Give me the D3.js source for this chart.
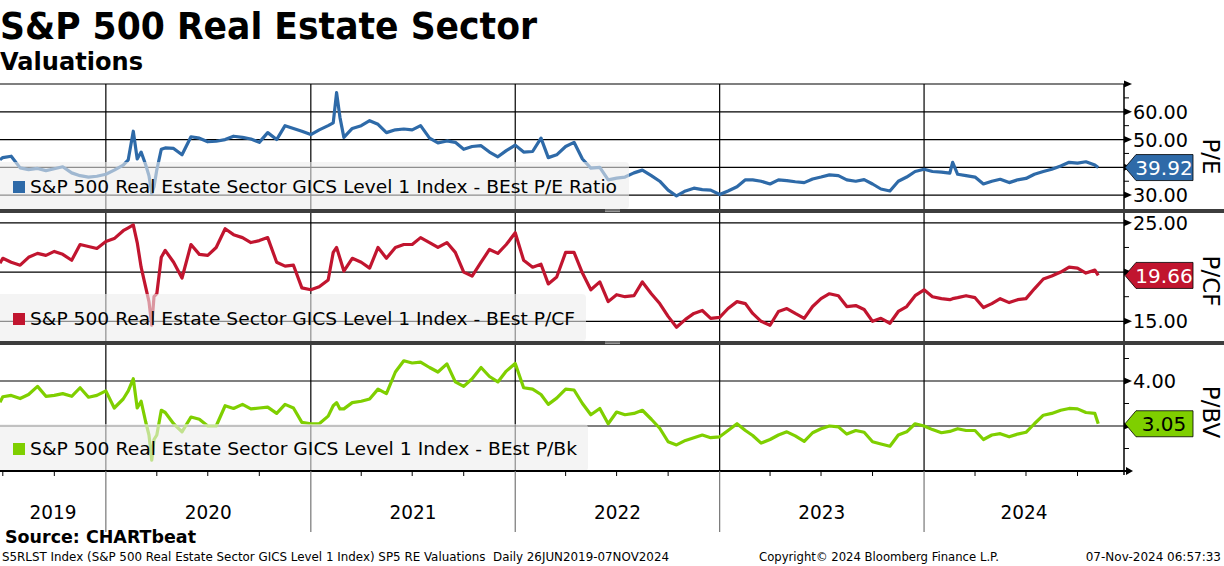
<!DOCTYPE html>
<html>
<head>
<meta charset="utf-8">
<script src="https://cdn.jsdelivr.net/npm/d3@7"></script>
<style>
  body { margin: 0; background: #fff; }
  svg { display: block; font-family: "DejaVu Sans", Verdana, sans-serif; }
</style>
</head>
<body>
<div id="chart"></div>
<script>
// semi-monthly sampling of the daily series, plus a few extra days round the spikes
const dates = [
  "2019-06-26","2019-07-01","2019-07-16","2019-08-01","2019-08-16","2019-09-01","2019-09-16","2019-10-01","2019-10-16","2019-11-01",
  "2019-11-16","2019-12-01","2019-12-16","2020-01-01","2020-01-16","2020-02-01","2020-02-10","2020-02-19","2020-02-26","2020-03-04",
  "2020-03-12","2020-03-18","2020-03-23","2020-03-27","2020-04-01","2020-04-09","2020-04-16","2020-05-01","2020-05-16","2020-06-01",
  "2020-06-16","2020-07-01","2020-07-16","2020-08-01","2020-08-16","2020-09-01","2020-09-16","2020-10-01","2020-10-16","2020-11-01",
  "2020-11-16","2020-12-01","2020-12-16","2021-01-01","2021-01-16","2021-02-01","2021-02-10","2021-02-16","2021-02-22","2021-03-01",
  "2021-03-16","2021-04-01","2021-04-16","2021-05-01","2021-05-16","2021-06-01","2021-06-16","2021-07-01","2021-07-16","2021-08-01",
  "2021-08-16","2021-09-01","2021-09-16","2021-10-01","2021-10-16","2021-11-01","2021-11-16","2021-12-01","2021-12-16","2022-01-01",
  "2022-01-16","2022-02-01","2022-02-16","2022-03-01","2022-03-16","2022-04-01","2022-04-16","2022-05-01","2022-05-16","2022-06-01",
  "2022-06-16","2022-07-01","2022-07-16","2022-08-01","2022-08-16","2022-09-01","2022-09-16","2022-10-01","2022-10-16","2022-11-01",
  "2022-11-16","2022-12-01","2022-12-16","2023-01-01","2023-01-16","2023-02-01","2023-02-16","2023-03-01","2023-03-16","2023-04-01",
  "2023-04-16","2023-05-01","2023-05-16","2023-06-01","2023-06-16","2023-07-01","2023-07-16","2023-08-01","2023-08-16","2023-09-01",
  "2023-09-16","2023-10-01","2023-10-16","2023-11-01","2023-11-16","2023-12-01","2023-12-16","2024-01-01","2024-01-16","2024-02-01",
  "2024-02-16","2024-02-21","2024-03-01","2024-03-16","2024-04-01","2024-04-16","2024-05-01","2024-05-16","2024-06-01","2024-06-16",
  "2024-07-01","2024-07-16","2024-08-01","2024-08-16","2024-09-01","2024-09-16","2024-10-01","2024-10-16","2024-11-01","2024-11-07"
];

const peValues = [
  42.7,43.5,44.0,39.8,39.2,39.6,38.8,39.5,40.2,38.0,
  37.0,36.5,36.8,37.5,39.0,40.8,42.7,53.0,43.0,45.5,
  41.0,37.0,30.6,33.0,39.1,46.5,47.0,46.8,44.5,51.0,
  50.5,49.2,49.4,50.0,51.2,50.8,50.2,49.0,52.5,50.0,
  55.0,54.0,53.0,51.8,53.5,55.0,56.0,66.9,58.0,50.8,
  54.0,55.0,56.8,55.5,52.5,53.5,53.8,53.5,55.0,50.5,
  48.8,49.5,49.0,46.5,47.5,47.8,45.5,43.8,46.0,48.0,
  45.5,45.7,50.5,43.5,44.5,47.5,49.0,43.0,39.7,40.0,
  35.5,36.1,36.5,38.0,39.0,37.0,35.0,31.8,29.7,31.5,
  32.5,32.0,31.8,30.2,31.5,33.0,35.5,35.5,35.0,34.0,
  35.5,35.2,34.8,34.5,35.8,36.5,37.3,37.0,35.5,35.0,
  35.6,34.0,32.2,31.5,35.0,36.5,38.5,39.3,38.5,38.3,
  37.9,41.8,37.5,37.0,36.5,34.0,35.0,35.7,34.5,35.5,
  36.0,37.5,38.5,39.3,40.5,41.8,41.5,42.0,40.8,39.92
];

const pcfValues = [
  20.9,21.4,21.0,20.7,21.5,21.9,21.7,22.1,21.8,21.2,
  22.8,22.6,22.4,23.1,23.4,24.2,24.5,24.8,23.0,20.5,
  18.5,17.0,14.6,17.5,17.8,21.5,22.2,21.0,19.4,22.8,
  21.8,21.7,22.5,24.4,23.8,23.5,23.0,23.2,23.5,21.0,
  20.6,20.7,18.4,18.2,18.5,19.2,22.0,22.5,21.4,20.1,
  21.4,21.0,20.4,22.5,21.4,22.5,22.8,22.8,23.5,23.0,
  22.5,23.0,22.0,20.0,19.6,21.0,22.3,21.9,22.8,24.0,
  21.2,20.5,20.8,18.8,19.5,22.0,22.0,19.9,18.2,19.0,
  17.0,17.7,17.5,17.6,19.0,17.8,16.8,15.5,14.4,15.2,
  15.8,16.1,15.3,15.4,16.3,17.0,16.8,15.8,15.0,14.6,
  16.0,16.3,15.8,15.3,16.5,17.3,17.8,17.6,16.5,16.6,
  16.2,15.0,15.3,14.8,16.0,16.5,17.6,18.2,17.5,17.3,
  17.2,17.3,17.4,17.6,17.4,16.4,16.8,17.3,16.9,17.2,
  17.3,18.3,19.3,19.6,20.0,20.5,20.4,19.9,20.2,19.66
];

const pbValues = [
  3.53,3.65,3.68,3.61,3.70,3.88,3.66,3.68,3.72,3.66,
  3.85,3.64,3.68,3.78,3.40,3.60,3.78,4.05,3.40,3.55,
  3.10,2.80,2.24,2.70,2.80,3.35,3.30,3.05,2.87,3.20,
  3.15,3.00,3.00,3.45,3.39,3.48,3.38,3.40,3.42,3.28,
  3.48,3.40,3.08,3.05,3.05,3.22,3.45,3.52,3.38,3.38,
  3.52,3.55,3.60,3.82,3.72,4.20,4.45,4.40,4.42,4.30,
  4.20,4.38,3.98,3.88,4.05,4.30,4.10,3.98,4.22,4.39,
  3.85,3.82,3.70,3.48,3.62,3.82,3.80,3.50,3.25,3.39,
  3.05,3.31,3.25,3.28,3.35,3.15,2.95,2.65,2.58,2.68,
  2.74,2.80,2.74,2.76,2.90,3.05,2.90,2.79,2.62,2.70,
  2.80,2.87,2.78,2.66,2.85,2.94,3.00,2.98,2.82,2.90,
  2.86,2.65,2.60,2.55,2.80,2.87,3.05,3.00,2.92,2.85,
  2.88,2.90,2.94,2.90,2.90,2.70,2.80,2.83,2.76,2.82,
  2.86,3.05,3.24,3.28,3.35,3.39,3.38,3.30,3.28,3.05
];

const years = ["2019", "2020", "2021", "2022", "2023", "2024"];
const peTicks = [30, 40, 50, 60];
const pcfTicks = [15, 20, 25];
const pbTicks = [3, 4];

const width = 1224, height = 566;
const plotRight = 1124;
const parse = d3.timeParse("%Y-%m-%d");
const dateObjs = dates.map(parse);

const x = d3.scaleTime()
  .domain([parse("2019-06-26"), parse("2024-12-23")])
  .range([0, plotRight]);

const panels = [
  { name: "P/E", values: peValues, top: 84, bottom: 209, domain: [25, 70],
    grid: [30, 40, 50, 60, 70], ticks: peTicks, labels: [30, 50, 60], minor: [35, 45, 55, 65],
    color: "#2e6aa8", textColor: "#fff", last: "39.92", fmt: d3.format(".2f"),
    legend: "S&P 500 Real Estate Sector GICS Level 1 Index - BEst P/E Ratio",
    legendW: 629, legendLen: 587 },
  { name: "P/CF", values: pcfValues, top: 213, bottom: 341, domain: [13, 26],
    grid: [15, 20, 25], ticks: pcfTicks, labels: [15, 25], minor: [17.5, 22.5],
    color: "#c1152f", textColor: "#fff", last: "19.66", fmt: d3.format(".2f"),
    legend: "S&P 500 Real Estate Sector GICS Level 1 Index - BEst P/CF",
    legendW: 586, legendLen: 545 },
  { name: "P/BV", values: pbValues, top: 345, bottom: 471, domain: [2, 4.8],
    grid: [3, 4], ticks: pbTicks, labels: [4], minor: [2.5, 3.5, 4.5],
    color: "#7fcf00", textColor: "#000", last: "3.05", fmt: d3.format(".2f"),
    legend: "S&P 500 Real Estate Sector GICS Level 1 Index - BEst P/Bk",
    legendW: 588, legendLen: 547 }
];

const svg = d3.select("#chart").append("svg")
  .attr("width", width)
  .attr("height", height);

// title block
svg.append("text")
  .attr("x", 0).attr("y", 39)
  .attr("font-size", 38).attr("font-weight", "bold")
  .attr("textLength", 537).attr("lengthAdjust", "spacingAndGlyphs")
  .text("S&P 500 Real Estate Sector");

svg.append("text")
  .attr("x", 0).attr("y", 70)
  .attr("font-size", 25).attr("font-weight", "bold")
  .attr("textLength", 143).attr("lengthAdjust", "spacingAndGlyphs")
  .text("Valuations");

const yearStarts = years.slice(1).map(yr => parse(yr + "-01-01"));

panels.forEach((p) => {
  const y = d3.scaleLinear().domain(p.domain).range([p.bottom, p.top]);
  const g = svg.append("g");

  // horizontal grid
  g.selectAll(".hg")
    .data(p.grid)
    .enter()
    .append("line")
    .attr("x1", 0).attr("x2", plotRight)
    .attr("y1", d => y(d)).attr("y2", d => y(d))
    .attr("stroke", "#000").attr("stroke-width", 1.2);

  // vertical grid at year starts
  g.selectAll(".vg")
    .data(yearStarts)
    .enter()
    .append("line")
    .attr("x1", d => x(d)).attr("x2", d => x(d))
    .attr("y1", p.top).attr("y2", p.bottom)
    .attr("stroke", "#000").attr("stroke-width", 1.2);

  const line = d3.line()
    .x((d, i) => x(dateObjs[i]))
    .y(d => y(d));

  g.append("path")
    .datum(p.values)
    .attr("d", line)
    .attr("fill", "none")
    .attr("stroke", p.color)
    .attr("stroke-width", 3.2)
    .attr("stroke-linejoin", "round");

  // legend box, semi transparent over the line
  const ly = p.bottom - 47;
  g.append("rect")
    .attr("x", -4).attr("y", ly)
    .attr("width", p.legendW + 4).attr("height", 47)
    .attr("rx", 4)
    .attr("fill", "#ececec")
    .attr("opacity", 0.6);

  g.append("rect")
    .attr("x", 13).attr("y", ly + 19)
    .attr("width", 12).attr("height", 12)
    .attr("fill", p.color);

  g.append("text")
    .attr("x", 30).attr("y", ly + 31)
    .attr("font-size", 18)
    .attr("textLength", p.legendLen).attr("lengthAdjust", "spacingAndGlyphs")
    .text(p.legend);

  // right axis
  g.append("line")
    .attr("x1", plotRight).attr("x2", plotRight)
    .attr("y1", p.top).attr("y2", p.bottom + 4)
    .attr("stroke", "#000").attr("stroke-width", 1.5);

  g.selectAll(".minor")
    .data(p.minor)
    .enter()
    .append("line")
    .attr("x1", plotRight).attr("x2", plotRight + 5)
    .attr("y1", d => y(d)).attr("y2", d => y(d))
    .attr("stroke", "#000").attr("stroke-width", 1);

  const tickVals = p.grid.filter(d => y(d) >= p.top - 0.5);
  g.selectAll(".major")
    .data(tickVals)
    .enter()
    .append("path")
    .attr("d", d => `M${plotRight},${y(d) - 3.5}L${plotRight + 8},${y(d)}L${plotRight},${y(d) + 3.5}Z`)
    .attr("fill", "#000");

  g.selectAll(".tl")
    .data(p.labels)
    .enter()
    .append("text")
    .attr("x", plotRight + 9)
    .attr("y", d => y(d) + 7)
    .attr("font-size", 19)
    .attr("textLength", d => p.fmt(d).length > 4 ? 55 : 43)
    .attr("lengthAdjust", "spacingAndGlyphs")
    .text(d => p.fmt(d));

  // axis title, rotated
  const mid = (p.top + p.bottom) / 2 + (p.name === "P/E" ? 10 : 4);
  g.append("text")
    .attr("transform", `translate(1203,${mid}) rotate(90)`)
    .attr("text-anchor", "middle")
    .attr("font-size", 23)
    .text(p.name);

  // last value tag
  const lv = p.values[p.values.length - 1];
  const ty = y(lv);
  g.append("path")
    .attr("d", `M${plotRight + 1},${ty}L${plotRight + 12},${ty - 13}L${plotRight + 69},${ty - 13}L${plotRight + 69},${ty + 13}L${plotRight + 12},${ty + 13}Z`)
    .attr("fill", p.color)
    .attr("stroke", "#000")
    .attr("stroke-width", 0.8);

  g.append("text")
    .attr("x", plotRight + 40).attr("y", ty + 7.5)
    .attr("text-anchor", "middle")
    .attr("font-size", 20)
    .attr("fill", p.textColor)
    .text(p.last);
});

// panel separators
[209, 341].forEach(sy => {
  svg.append("rect")
    .attr("x", 0).attr("y", sy)
    .attr("width", width).attr("height", 4)
    .attr("fill", "#3d3d3d");
  [1, 2.6].forEach(dy => {
    svg.append("line")
      .attr("x1", 605).attr("x2", 620)
      .attr("y1", sy + dy).attr("y2", sy + dy)
      .attr("stroke", "#bbb").attr("stroke-width", 0.8);
  });
});

// bottom time axis
svg.append("line")
  .attr("x1", 0).attr("x2", plotRight + 4)
  .attr("y1", 471).attr("y2", 471)
  .attr("stroke", "#000").attr("stroke-width", 2);
svg.append("path")
  .attr("d", `M${plotRight + 2},467L${plotRight + 9},471L${plotRight + 2},475Z`)
  .attr("fill", "#000");

const quarters = d3.timeMonth.every(3).range(parse("2019-07-01"), parse("2024-12-01"));
svg.selectAll(".qt")
  .data(quarters.filter(d => d.getMonth() !== 0))
  .enter()
  .append("line")
  .attr("x1", d => x(d)).attr("x2", d => x(d))
  .attr("y1", 471).attr("y2", 476)
  .attr("stroke", "#000").attr("stroke-width", 1);

svg.selectAll(".ysep")
  .data(yearStarts)
  .enter()
  .append("line")
  .attr("x1", d => x(d)).attr("x2", d => x(d))
  .attr("y1", 471).attr("y2", 532)
  .attr("stroke", "#777").attr("stroke-width", 1.2);

const yearEdges = [x.domain()[0], ...yearStarts, x.domain()[1]];
svg.selectAll(".yl")
  .data(years)
  .enter()
  .append("text")
  .attr("x", (d, i) => (x(yearEdges[i]) + x(yearEdges[i + 1])) / 2)
  .attr("y", 519)
  .attr("text-anchor", "middle")
  .attr("font-size", 20)
  .attr("textLength", 47).attr("lengthAdjust", "spacingAndGlyphs")
  .text(d => d);

// footer
svg.append("text")
  .attr("x", 5).attr("y", 543)
  .attr("font-size", 17).attr("font-weight", "bold")
  .attr("textLength", 191).attr("lengthAdjust", "spacingAndGlyphs")
  .text("Source: CHARTbeat");

svg.append("text")
  .attr("x", 2).attr("y", 561)
  .attr("font-size", 12)
  .attr("textLength", 667).attr("lengthAdjust", "spacingAndGlyphs")
  .text("S5RLST Index (S&P 500 Real Estate Sector GICS Level 1 Index) SP5 RE Valuations\u00A0 Daily 26JUN2019-07NOV2024");

svg.append("text")
  .attr("x", 759).attr("y", 561)
  .attr("font-size", 12)
  .attr("textLength", 240).attr("lengthAdjust", "spacingAndGlyphs")
  .text("Copyright\u00A9 2024 Bloomberg Finance L.P.");

svg.append("text")
  .attr("x", 1221).attr("y", 561)
  .attr("font-size", 12)
  .attr("text-anchor", "end")
  .text("07-Nov-2024 06:57:33");
</script>
</body>
</html>
